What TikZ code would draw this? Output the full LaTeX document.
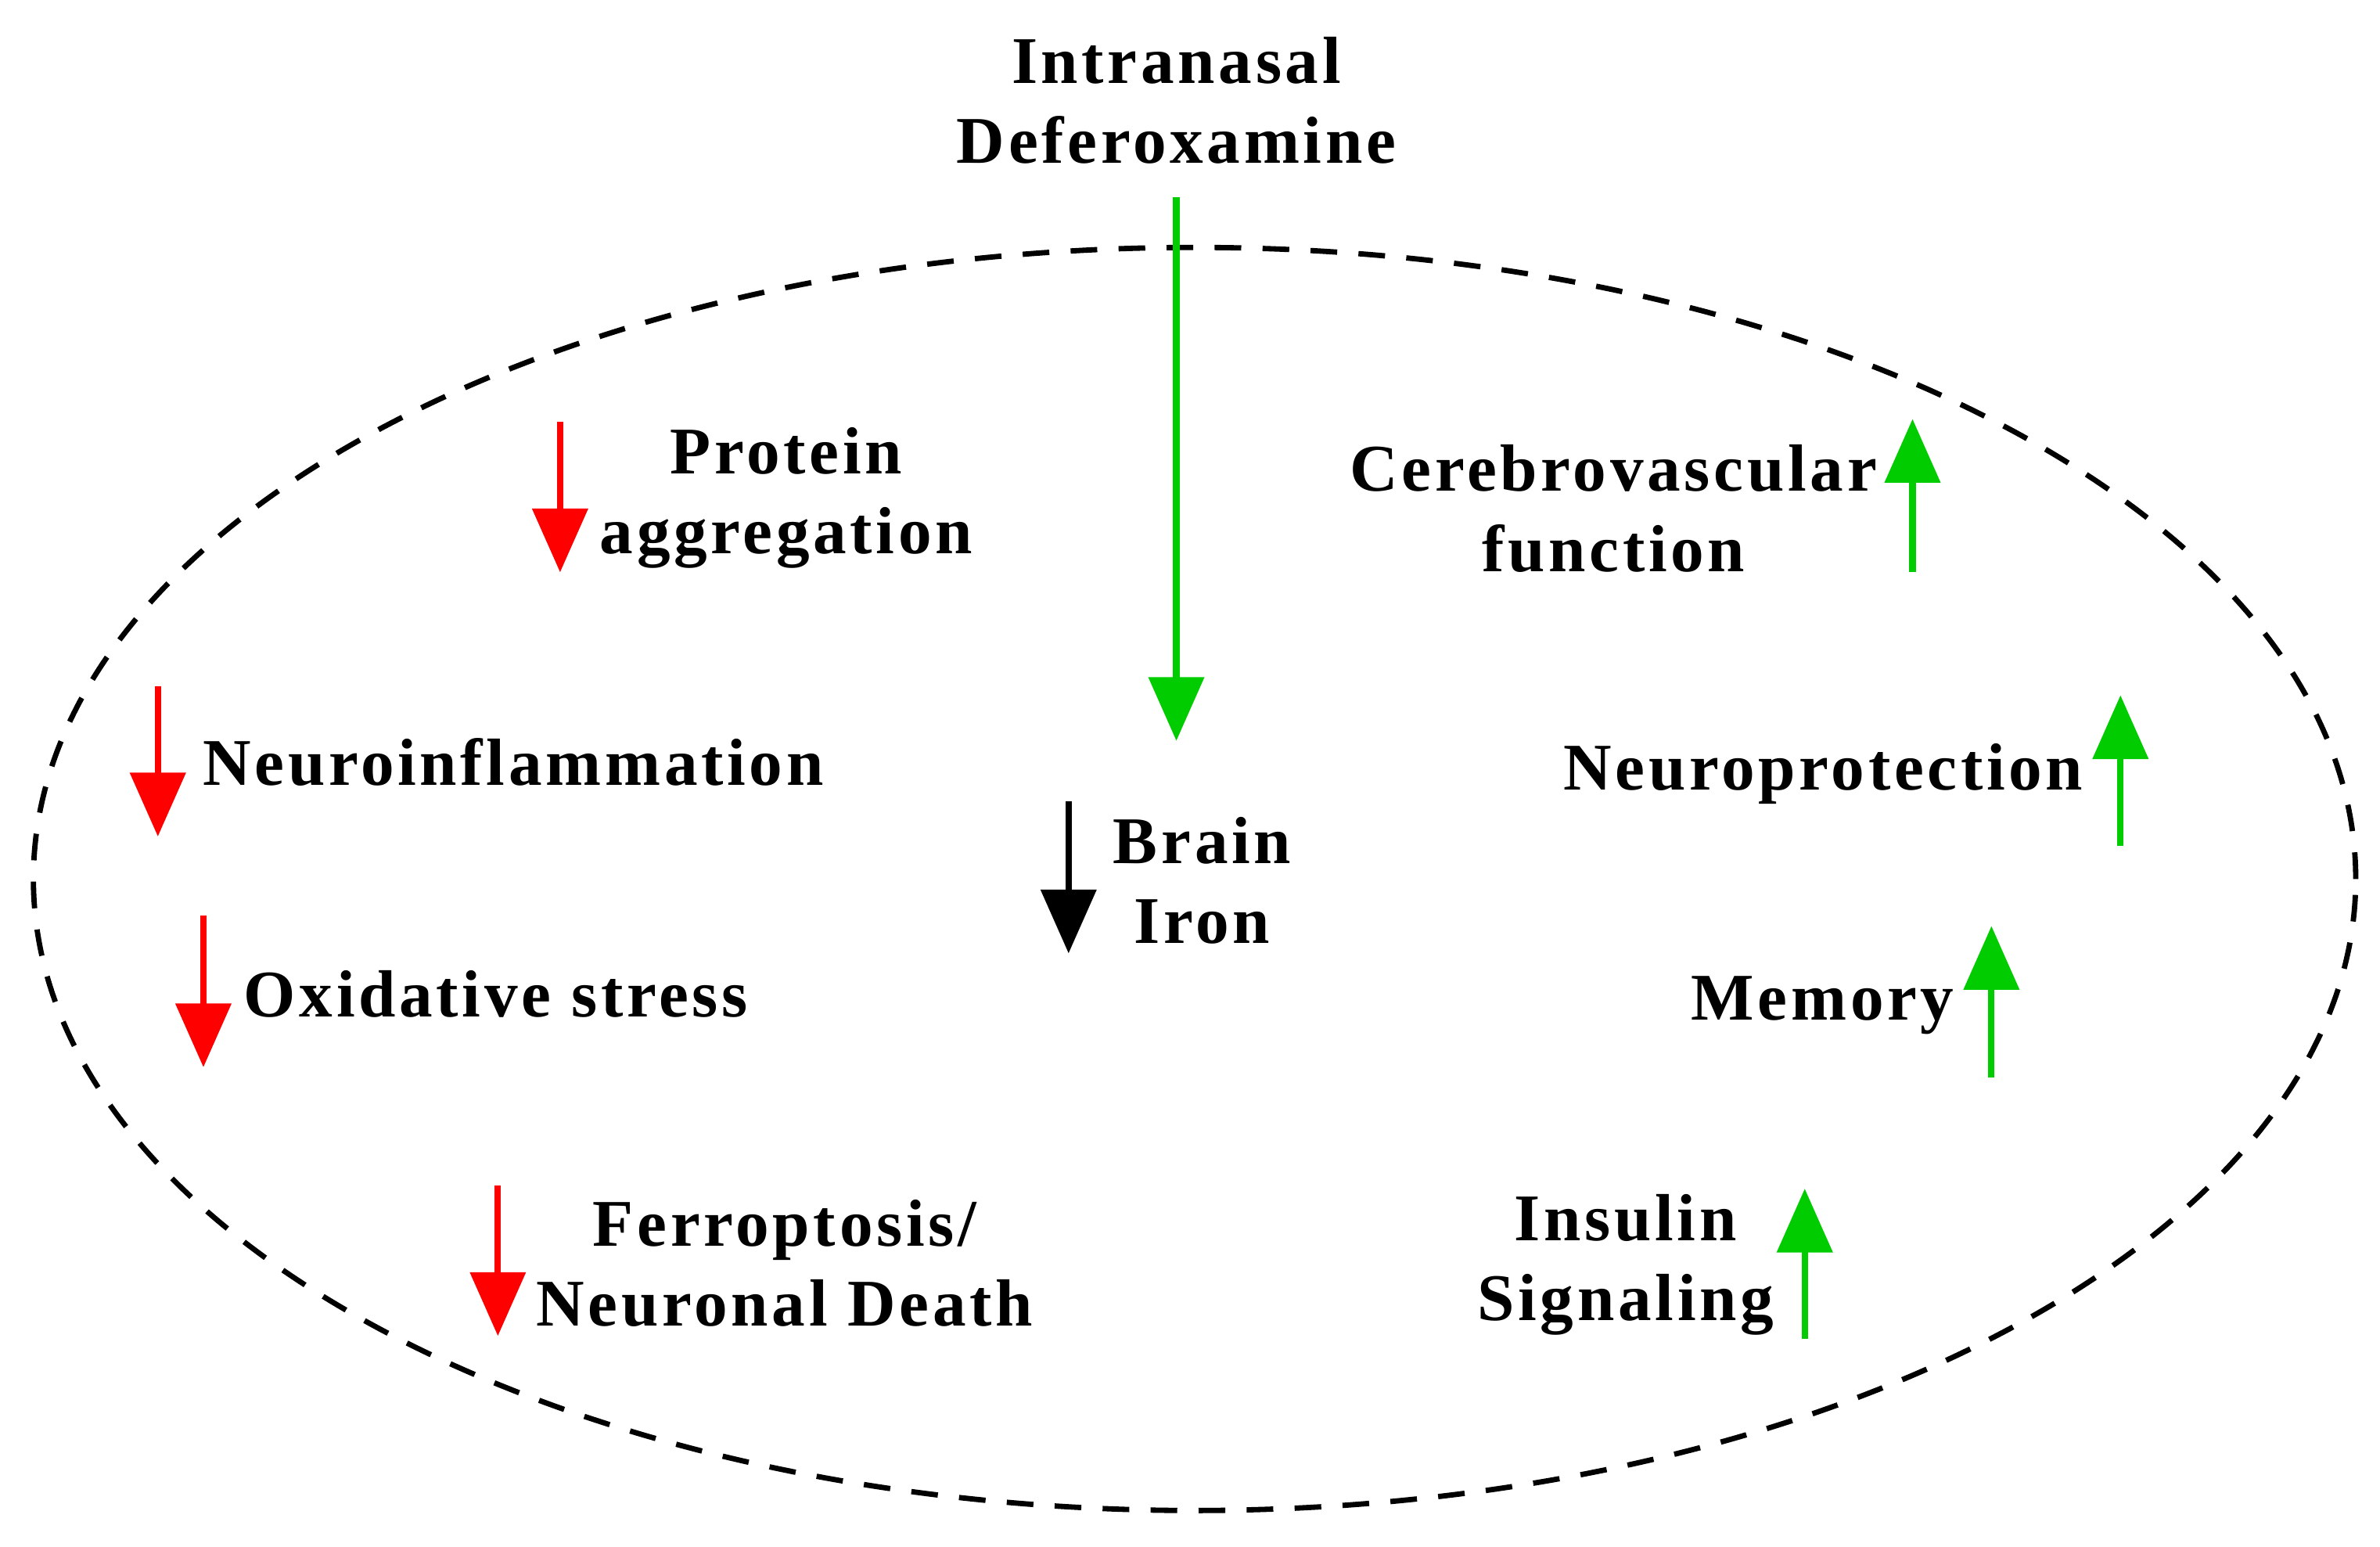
\documentclass[tikz,border=0pt]{standalone}
\usepackage{fontspec}
\setmainfont{Liberation Serif}[LetterSpace=5.5]
\usetikzlibrary{arrows.meta}
\tikzset{
  lbl/.style={font=\bfseries\fontsize{12.5}{15}\selectfont, align=center, inner sep=0pt},
  dn/.style={line width=1.2pt, -{Triangle[length=0.42cm, width=0.36cm]}},
  up/.style={line width=1.2pt, -{Triangle[length=0.42cm, width=0.36cm]}}
}
\definecolor{dgreen}{RGB}{0,204,0}
\begin{document}
\begin{tikzpicture}
\useasboundingbox (0,0) rectangle (15.68,10.19);
\draw[dashed, line width=1pt, dash pattern=on 5pt off 4pt] (7.87,4.40) ellipse [x radius=7.65, y radius=4.16];
%%------------
\node[lbl] (dfo) at (7.75,9.53) {Intranasal\\Deferoxamine};
\coordinate (dfo-s) at (7.75,8.89);
\coordinate (dfo-e) at (7.75,5.31);
\draw[dn, dgreen] (dfo-s) -- (dfo-e);
\node[lbl] (iron) at (7.92,4.39) {Brain\\Iron};
\coordinate (iron-s) at (7.04,4.91);
\coordinate (iron-e) at (7.04,3.91);
\draw[dn, black] (iron-s) -- (iron-e);
%%------------
\node[lbl] (prot) at (5.18,6.91) {Protein\\aggregation};
\coordinate (prot-s) at (3.69,7.41);
\coordinate (prot-e) at (3.69,6.42);
\draw[dn, red] (prot-s) -- (prot-e);
\node[lbl, anchor=west] (infl) at (1.33,5.17) {Neuroinflammation};
\coordinate (infl-s) at (1.04,5.67);
\coordinate (infl-e) at (1.04,4.68);
\draw[dn, red] (infl-s) -- (infl-e);
\node[lbl, anchor=west] (oxid) at (1.60,3.64) {Oxidative stress};
\coordinate (oxid-s) at (1.34,4.16);
\coordinate (oxid-e) at (1.34,3.16);
\draw[dn, red] (oxid-s) -- (oxid-e);
\node[lbl] (ferr) at (5.17,1.87) {Ferroptosis/\\Neuronal Death};
\coordinate (ferr-s) at (3.28,2.38);
\coordinate (ferr-e) at (3.28,1.39);
\draw[dn, red] (ferr-s) -- (ferr-e);
%%------------
\node[lbl] (cere) at (10.63,6.84) {Cerebrovascular\\function};
\coordinate (cere-s) at (12.60,6.42);
\coordinate (cere-e) at (12.60,7.43);
\draw[up, dgreen] (cere-s) -- (cere-e);
\node[lbl, anchor=east] (npro) at (13.73,5.09) {Neuroprotection};
\coordinate (npro-s) at (13.97,4.62);
\coordinate (npro-e) at (13.97,5.61);
\draw[up, dgreen] (npro-s) -- (npro-e);
\node[lbl, anchor=east] (mem) at (12.88,3.57) {Memory};
\coordinate (mem-s) at (13.12,3.09);
\coordinate (mem-e) at (13.12,4.09);
\draw[up, dgreen] (mem-s) -- (mem-e);
\node[lbl] (ins) at (10.71,1.86) {Insulin\\Signaling};
\coordinate (ins-s) at (11.89,1.37);
\coordinate (ins-e) at (11.89,2.36);
\draw[up, dgreen] (ins-s) -- (ins-e);
\end{tikzpicture}
\end{document}
